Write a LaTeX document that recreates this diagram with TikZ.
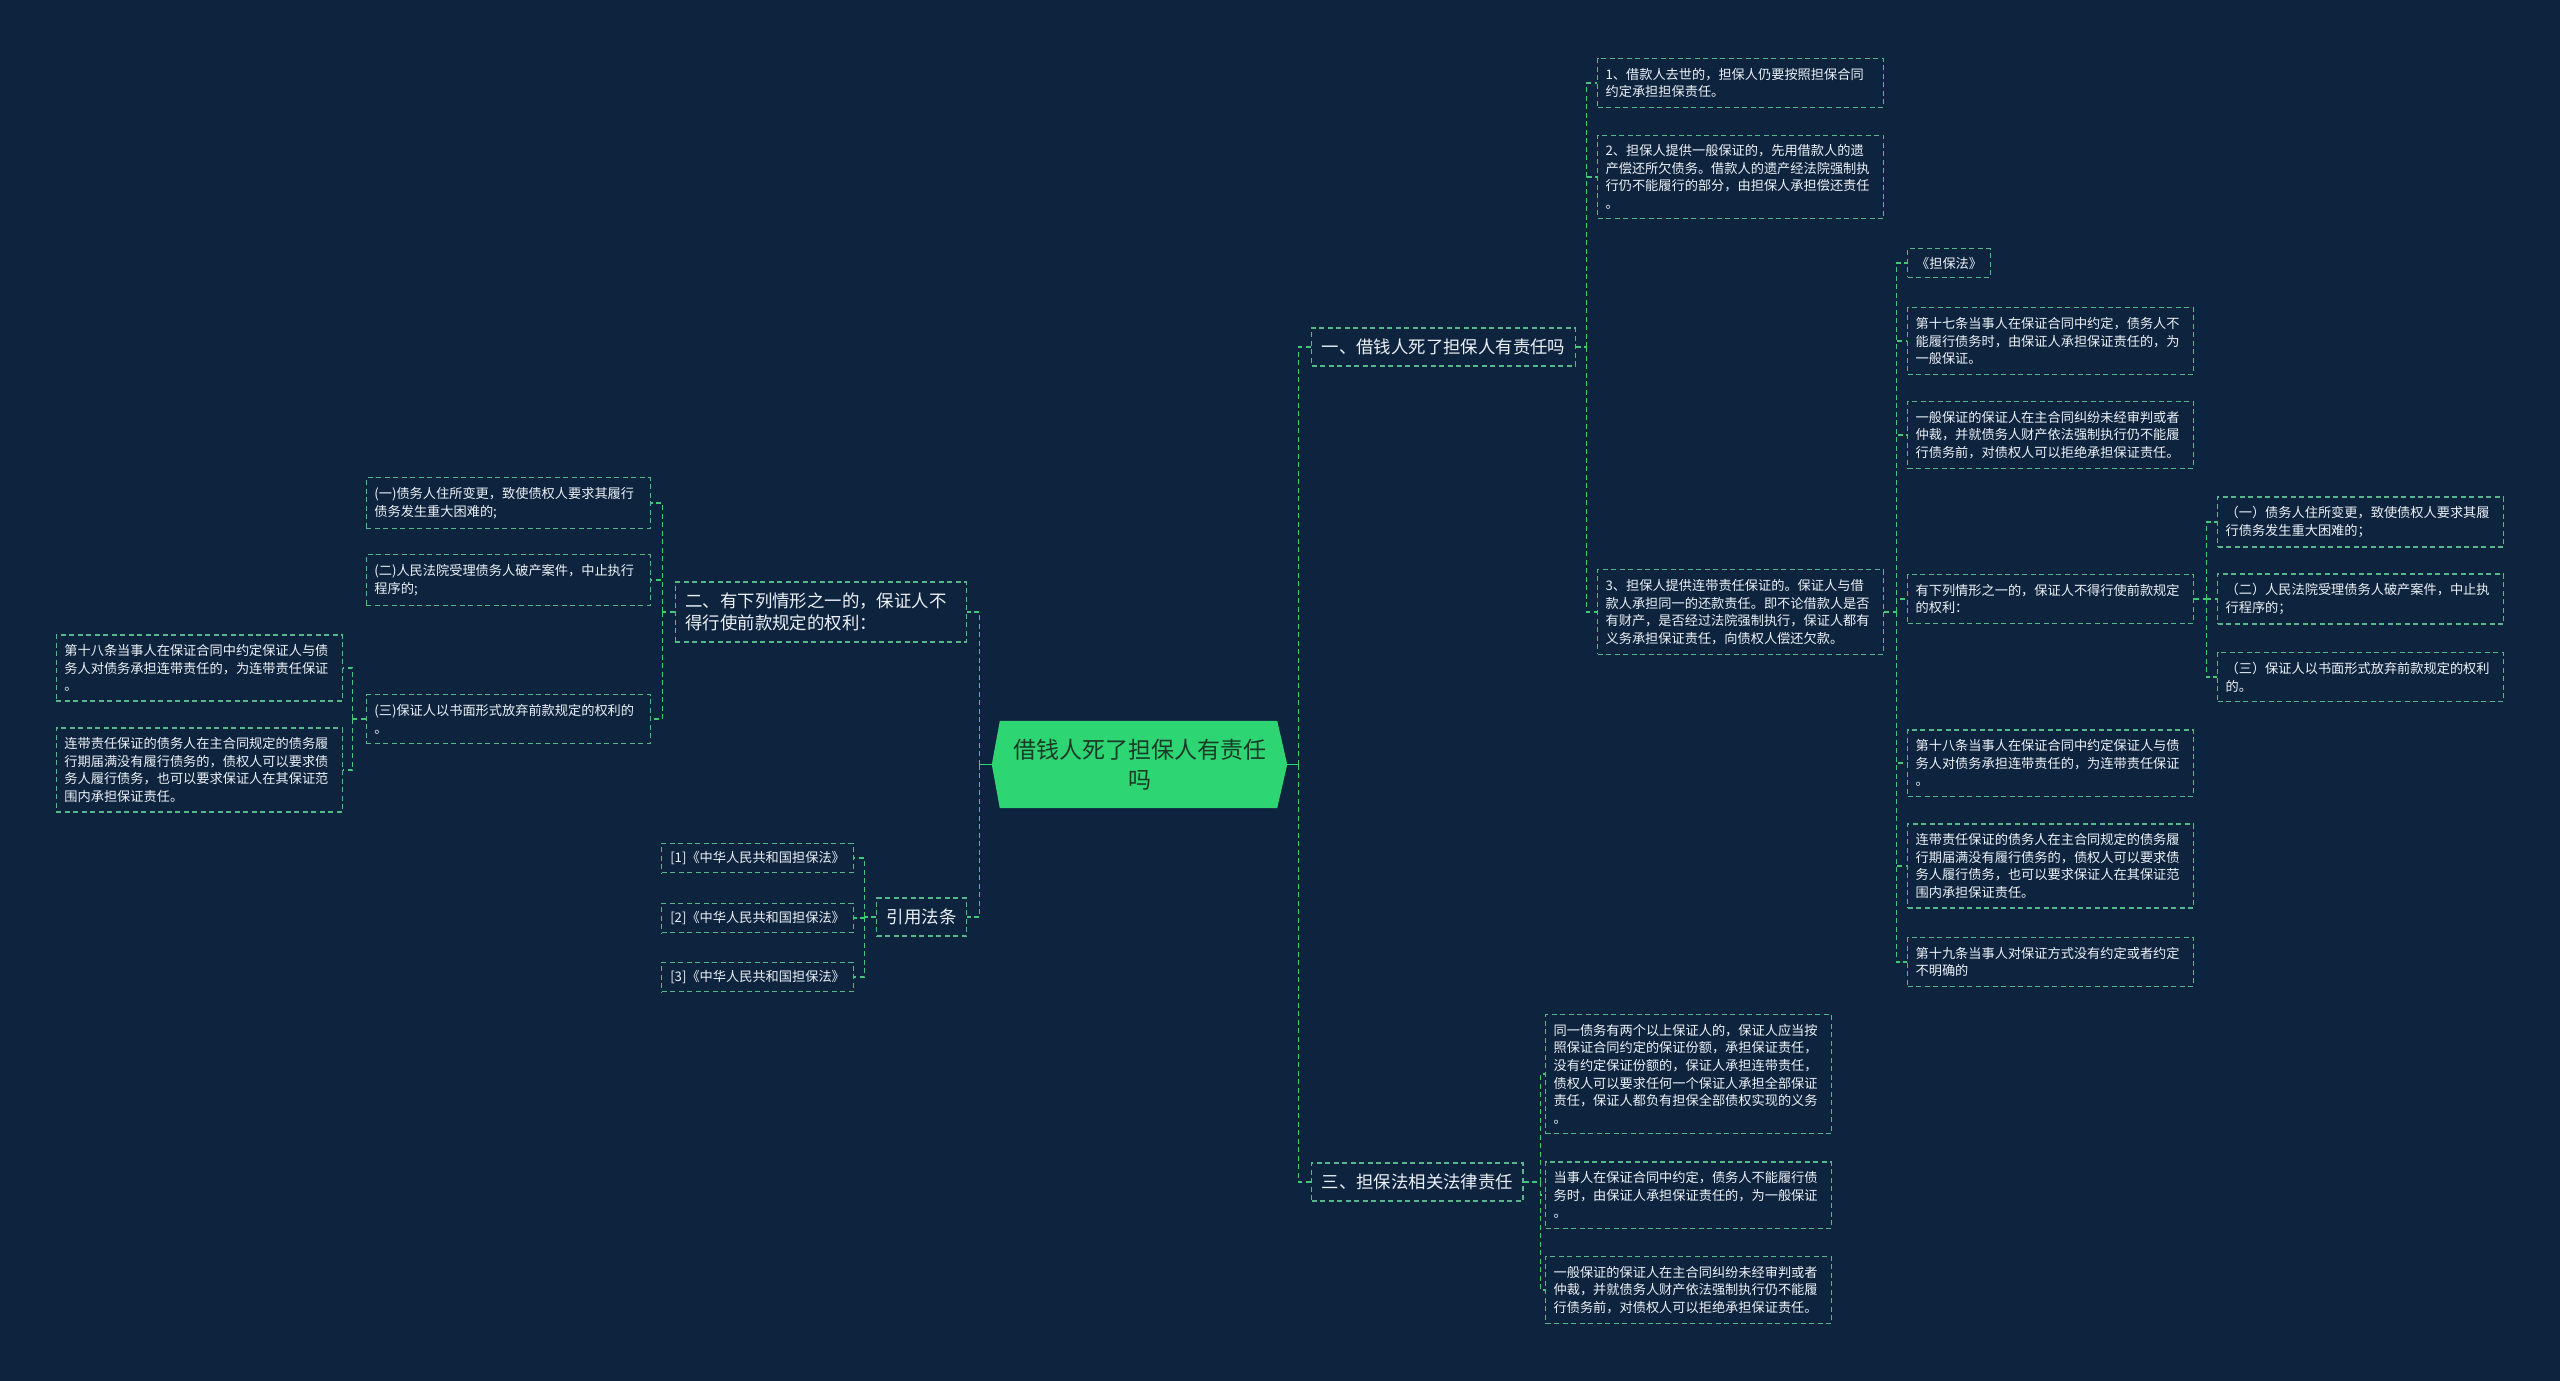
\documentclass[tikz,border=0pt]{standalone}
\usepackage{fontspec}
\setmainfont{Noto Sans CJK SC}
\usetikzlibrary{calc}
\pgfdeclarelayer{background}
\pgfsetlayers{background,main}
\definecolor{bgc}{RGB}{14,36,62}
\definecolor{boxc}{RGB}{86,184,138}
\definecolor{linkc}{RGB}{62,200,120}
\definecolor{txtc}{RGB}{236,241,246}
\definecolor{rootc}{RGB}{46,213,115}
\definecolor{roottxt}{RGB}{22,58,38}
\newcommand\smallfnt{\fontsize{13.2}{17.6}\selectfont}
\newcommand\midfnt{\fontsize{17.4}{22}\selectfont}
\newcommand\rootfnt{\fontsize{23}{30}\selectfont}
\tikzset{
  leaf/.style={draw=boxc, line width=1.2pt, dash pattern=on 5pt off 3.5pt, text=txtc,
    font=\smallfnt, align=left, inner xsep=8pt, inner ysep=9.5pt, text width=270pt},
  leafn/.style={draw=boxc, line width=1.2pt, dash pattern=on 5pt off 3.5pt, text=txtc,
    font=\smallfnt, align=left, inner xsep=8.5pt, inner ysep=8pt},
  midbox/.style={draw=boxc, line width=1.2pt, dash pattern=on 5pt off 3.5pt, text=txtc,
    font=\midfnt, align=left, inner xsep=10pt, inner ysep=11pt},
  rootn/.style={minimum width=295pt, minimum height=87pt, text=roottxt, font=\rootfnt,
    align=center, inner sep=0pt},
  link/.style={draw=linkc, line width=1.3pt, dash pattern=on 5pt off 3.5pt},
  rootlink/.style={draw=rootc, line width=1.6pt}
}
\begin{document}
\begin{tikzpicture}[x=1pt,y=-1pt]
\begin{pgfonlayer}{background}
\fill[bgc] (0,0) rectangle (2560,1381);
\end{pgfonlayer}
\useasboundingbox (0,0) rectangle (2560,1381);

% root
\node[rootn] (root) at (1139.5,764.5) {借钱人死了担保人有责任\\吗};
\begin{pgfonlayer}{background}
\fill[rootc] (root.west) -- ([xshift=8pt]root.north west) -- ([xshift=-10pt]root.north east)
  -- (root.east) -- ([xshift=-10pt]root.south east) -- ([xshift=8pt]root.south west) -- cycle;
\end{pgfonlayer}

% level 1
\node[midbox, anchor=west] (b1) at (1311,347) {一、借钱人死了担保人有责任吗};
\node[midbox, anchor=west] (b3) at (1311,1182) {三、担保法相关法律责任};
\node[midbox, anchor=east, text width=271pt] (b2) at (967,612) {二、有下列情形之一的，保证人不\\得行使前款规定的权利：};
\node[midbox, anchor=east] (ref) at (967,917) {引用法条};

% branch 1 children
\node[leaf, anchor=west] (a1) at (1597,83) {1、借款人去世的，担保人仍要按照担保合同\\约定承担担保责任。};
\node[leaf, anchor=west] (a2) at (1597,177) {2、担保人提供一般保证的，先用借款人的遗\\产偿还所欠债务。借款人的遗产经法院强制执\\行仍不能履行的部分，由担保人承担偿还责任\\。};
\node[leaf, anchor=west] (a3) at (1597,612) {3、担保人提供连带责任保证的。保证人与借\\款人承担同一的还款责任。即不论借款人是否\\有财产，是否经过法院强制执行，保证人都有\\义务承担保证责任，向债权人偿还欠款。};

% a3 children
\node[leafn, anchor=west] (c1) at (1907,263) {《担保法》};
\node[leaf, anchor=west] (c2) at (1907,341) {第十七条当事人在保证合同中约定，债务人不\\能履行债务时，由保证人承担保证责任的，为\\一般保证。};
\node[leaf, anchor=west] (c3) at (1907,435) {一般保证的保证人在主合同纠纷未经审判或者\\仲裁，并就债务人财产依法强制执行仍不能履\\行债务前，对债权人可以拒绝承担保证责任。};
\node[leaf, anchor=west] (c4) at (1907,599) {有下列情形之一的，保证人不得行使前款规定\\的权利：};
\node[leaf, anchor=west] (c5) at (1907,763) {第十八条当事人在保证合同中约定保证人与债\\务人对债务承担连带责任的，为连带责任保证\\。};
\node[leaf, anchor=west] (c6) at (1907,866) {连带责任保证的债务人在主合同规定的债务履\\行期届满没有履行债务的，债权人可以要求债\\务人履行债务，也可以要求保证人在其保证范\\围内承担保证责任。};
\node[leaf, anchor=west] (c7) at (1907,962) {第十九条当事人对保证方式没有约定或者约定\\不明确的};

% c4 children
\node[leaf, anchor=west] (d1) at (2217,522) {（一）债务人住所变更，致使债权人要求其履\\行债务发生重大困难的；};
\node[leaf, anchor=west] (d2) at (2217,599) {（二）人民法院受理债务人破产案件，中止执\\行程序的；};
\node[leaf, anchor=west] (d3) at (2217,677) {（三）保证人以书面形式放弃前款规定的权利\\的。};

% branch 3 children
\node[leaf, anchor=west] (e1) at (1545,1074) {同一债务有两个以上保证人的，保证人应当按\\照保证合同约定的保证份额，承担保证责任，\\没有约定保证份额的，保证人承担连带责任，\\债权人可以要求任何一个保证人承担全部保证\\责任，保证人都负有担保全部债权实现的义务\\。};
\node[leaf, anchor=west] (e2) at (1545,1195) {当事人在保证合同中约定，债务人不能履行债\\务时，由保证人承担保证责任的，为一般保证\\。};
\node[leaf, anchor=west] (e3) at (1545,1290) {一般保证的保证人在主合同纠纷未经审判或者\\仲裁，并就债务人财产依法强制执行仍不能履\\行债务前，对债权人可以拒绝承担保证责任。};

% branch 2 children
\node[leaf, anchor=east, text width=268pt] (f1) at (651,503) {(一)债务人住所变更，致使债权人要求其履行\\债务发生重大困难的;};
\node[leaf, anchor=east, text width=268pt] (f2) at (651,580) {(二)人民法院受理债务人破产案件，中止执行\\程序的;};
\node[leaf, anchor=east, text width=268pt] (f3) at (651,719) {(三)保证人以书面形式放弃前款规定的权利的\\。};
\node[leaf, anchor=east] (g1) at (343,668) {第十八条当事人在保证合同中约定保证人与债\\务人对债务承担连带责任的，为连带责任保证\\。};
\node[leaf, anchor=east] (g2) at (343,770) {连带责任保证的债务人在主合同规定的债务履\\行期届满没有履行债务的，债权人可以要求债\\务人履行债务，也可以要求保证人在其保证范\\围内承担保证责任。};

% references
\node[leafn, anchor=east] (r1) at (854,858) {[1]《中华人民共和国担保法》};
\node[leafn, anchor=east] (r2) at (854,918) {[2]《中华人民共和国担保法》};
\node[leafn, anchor=east] (r3) at (854,977) {[3]《中华人民共和国担保法》};

% junctions
\coordinate (jR) at ([xshift=11pt]root.east);
\coordinate (jL) at ([xshift=-12pt]root.west);
\coordinate (j1) at ([xshift=11pt]b1.east);
\coordinate (j3) at ([xshift=12pt]a3.east);
\coordinate (j4) at ([xshift=12pt]c4.east);
\coordinate (j5) at ([xshift=17pt]b3.east);
\coordinate (j2) at ([xshift=-12pt]b2.west);
\coordinate (jf) at ([xshift=-13pt]f3.west);
\coordinate (jr) at ([xshift=-12pt]ref.west);

% connectors
\draw[rootlink] (root.east) -- (jR);
\draw[rootlink] (root.west) -- (jL);
\draw[link] (jR) |- (b1.west);
\draw[link] (jR) |- (b3.west);
\draw[link] (jL) |- (b2.east);
\draw[link] (jL) |- (ref.east);

\draw[link] (b1.east) -- (j1);
\foreach \n in {a1,a2,a3} \draw[link] (j1) |- (\n.west);
\draw[link] (a3.east) -- (j3);
\foreach \n in {c1,c2,c3,c4,c5,c6,c7} \draw[link] (j3) |- (\n.west);
\draw[link] (c4.east) -- (j4);
\foreach \n in {d1,d2,d3} \draw[link] (j4) |- (\n.west);
\draw[link] (b3.east) -- (j5);
\foreach \n in {e1,e2,e3} \draw[link] (j5) |- (\n.west);

\draw[link] (b2.west) -- (j2);
\foreach \n in {f1,f2,f3} \draw[link] (j2) |- (\n.east);
\draw[link] (f3.west) -- (jf);
\foreach \n in {g1,g2} \draw[link] (jf) |- (\n.east);
\draw[link] (ref.west) -- (jr);
\foreach \n in {r1,r2,r3} \draw[link] (jr) |- (\n.east);
\end{tikzpicture}
\end{document}
